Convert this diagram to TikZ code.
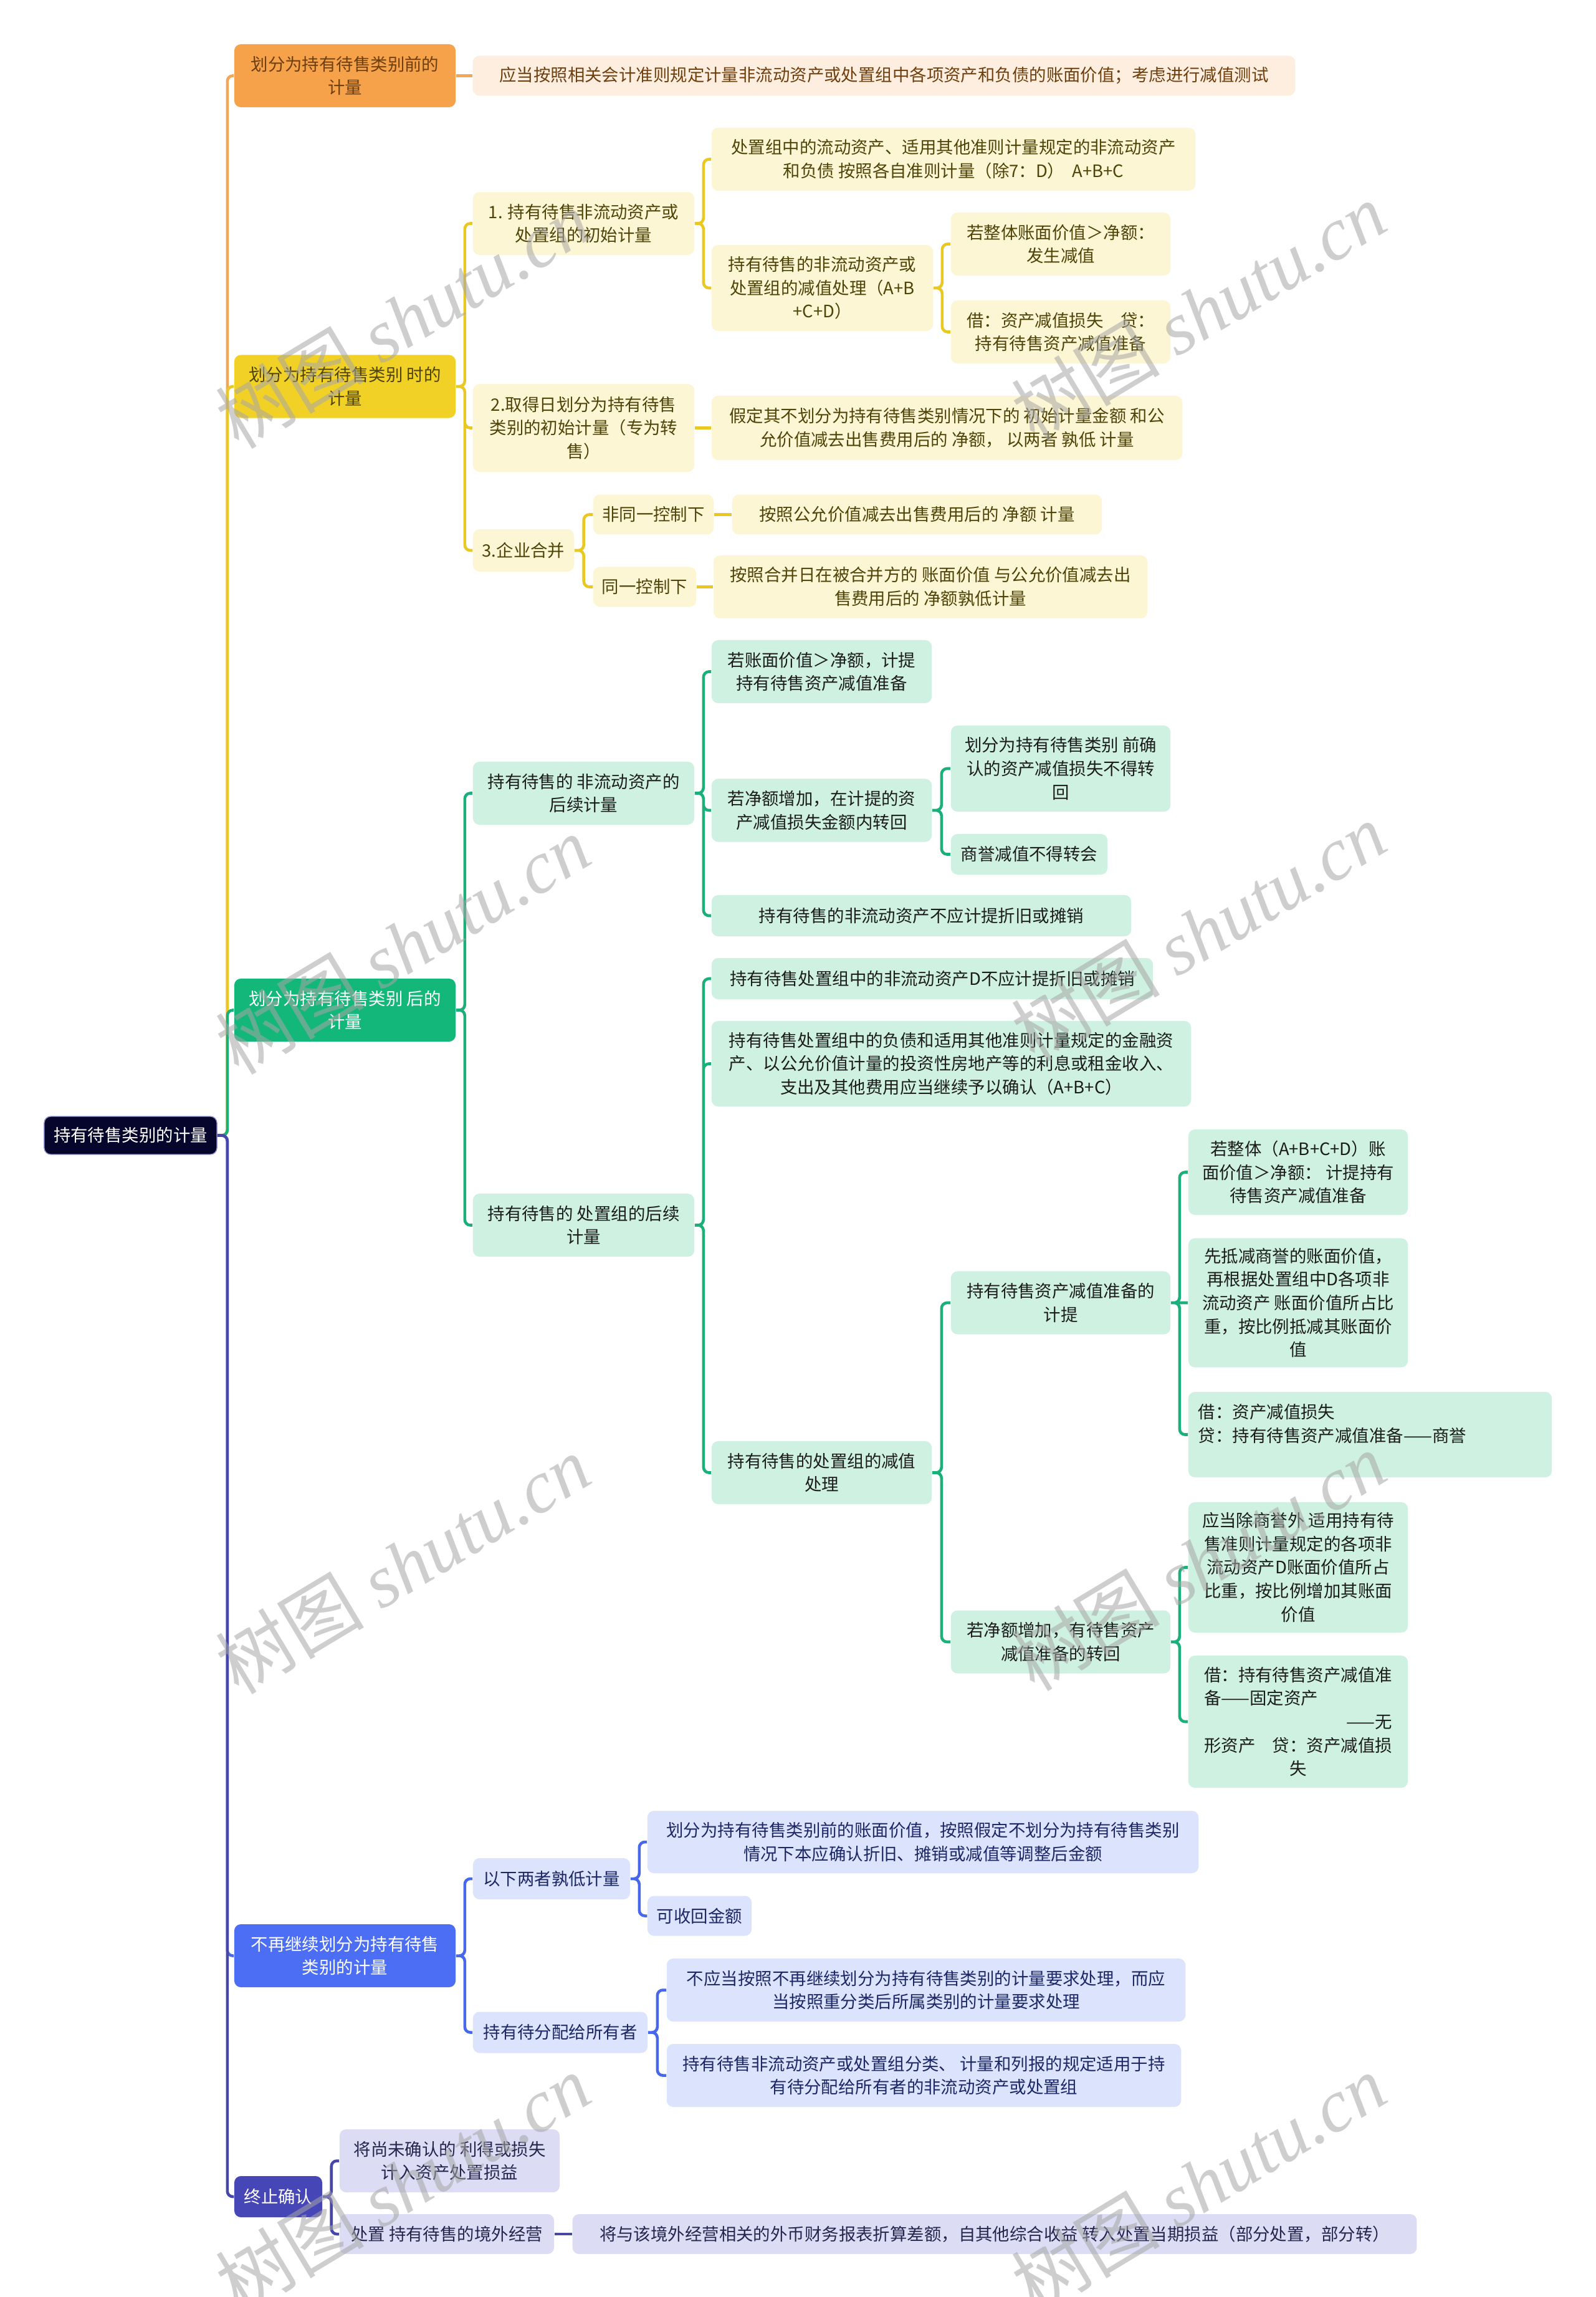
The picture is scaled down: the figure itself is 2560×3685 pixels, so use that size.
\documentclass[tikz,border=0pt]{standalone}
\usepackage{fontspec}
\setmainfont{Noto Sans CJK SC}
\newfontfamily\wmlat{Liberation Serif}
\definecolor{rootcol}{HTML}{06062C}
\definecolor{orgcol}{HTML}{F5A24B}
\definecolor{orgsoft}{HTML}{FDEEDF}
\definecolor{orgtxt}{HTML}{6E3F0E}
\definecolor{orgline}{HTML}{F2A657}
\definecolor{yelcol}{HTML}{F2D126}
\definecolor{yelsoft}{HTML}{FDF6D4}
\definecolor{yeltxt}{HTML}{4F4408}
\definecolor{yelline}{HTML}{E9C823}
\definecolor{grncol}{HTML}{14B77A}
\definecolor{grnsoft}{HTML}{CEF1E1}
\definecolor{grntxt}{HTML}{1C1C1C}
\definecolor{grnline}{HTML}{1BAF79}
\definecolor{blucol}{HTML}{4B6EF5}
\definecolor{blusoft}{HTML}{DCE3FC}
\definecolor{blutxt}{HTML}{1C2866}
\definecolor{bluline}{HTML}{4768EA}
\definecolor{indcol}{HTML}{4646B7}
\definecolor{indsoft}{HTML}{DDDCF5}
\definecolor{indtxt}{HTML}{25254D}
\definecolor{indline}{HTML}{4747AA}
\newcommand\mmfont{\fontsize{7.8pt}{10.7pt}\selectfont}

\begin{document}
\begin{tikzpicture}[x=0.01cm, y=-0.01cm,
    box/.style={rounded corners=3pt, inner sep=2pt, align=center, font=\mmfont},
    sz/.style 2 args={minimum width=#1cm, minimum height=#2cm},
    rootbox/.style={box, fill=rootcol, draw=indcol!60, thin, text=white},
    orgA/.style={box, fill=orgcol, text=orgtxt},
    orgB/.style={box, fill=orgsoft, text=orgtxt},
    yelA/.style={box, fill=yelcol, text=yeltxt},
    yelB/.style={box, fill=yelsoft, text=yeltxt},
    grnA/.style={box, fill=grncol, text=white},
    grnB/.style={box, fill=grnsoft, text=grntxt},
    bluA/.style={box, fill=blucol, text=white},
    bluB/.style={box, fill=blusoft, text=blutxt},
    indA/.style={box, fill=indcol, text=white},
    indB/.style={box, fill=indsoft, text=indtxt},
    olink/.style={orgline, line width=1.3pt, rounded corners=2.5pt},
    ylink/.style={yelline, line width=1.3pt, rounded corners=2.5pt},
    glink/.style={grnline, line width=1.3pt, rounded corners=2.5pt},
    blink/.style={bluline, line width=1.3pt, rounded corners=2.5pt},
    ilink/.style={indline, line width=1.3pt, rounded corners=2.5pt},
    wm/.style={text=gray!70, opacity=0.55, rotate=31, font=\fontsize{34pt}{34pt}\selectfont}]
  \fill[white] (0,0) rectangle (2560,3685);
  \useasboundingbox (0,0) rectangle (2560,3685);

  % root
  \node[rootbox, sz={2.77}{0.61}] (root) at (209.5,1821.5) {持有待售类别的计量};

  % before classification
  \node[orgA, sz={3.55}{1.01}] (pre) at (553.5,121.5) {划分为持有待售类别前的\\计量};
  \node[orgB, sz={13.19}{0.64}] (pre1) at (1418.5,121.5) {应当按照相关会计准则规定计量非流动资产或处置组中各项资产和负债的账面价值；考虑进行减值测试};

  % at classification
  \node[yelA, sz={3.55}{1.01}] (at) at (553.5,620) {划分为持有待售类别 时的\\计量};
  \node[yelB, sz={3.55}{1.01}] (at1) at (936.5,358.5) {1. 持有待售非流动资产或\\处置组的初始计量};
  \node[yelB, sz={7.76}{1.01}] (at11) at (1530,255.5) {处置组中的流动资产、适用其他准则计量规定的非流动资产\\和负债 按照各自准则计量（除7：D）\ \ A+B+C};
  \node[yelB, sz={3.55}{1.38}] (at12) at (1319.5,462) {持有待售的非流动资产或\\处置组的减值处理（A+B\\+C+D）};
  \node[yelB, sz={3.52}{1.01}] (at121) at (1702,391.5) {若整体账面价值＞净额：\\发生减值};
  \node[yelB, sz={3.52}{1.01}] (at122) at (1702,532.5) {借：资产减值损失\quad 贷：\\持有待售资产减值准备};
  \node[yelB, sz={3.55}{1.41}] (at2) at (936.5,686.5) {2.取得日划分为持有待售\\类别的初始计量（专为转\\售）};
  \node[yelB, sz={7.55}{1.03}] (at21) at (1519.5,686.5) {假定其不划分为持有待售类别情况下的 初始计量金额 和公\\允价值减去出售费用后的 净额， 以两者 孰低 计量};
  \node[yelB, sz={1.62}{0.68}] (at3) at (840,883) {3.企业合并};
  \node[yelB, sz={1.93}{0.64}] (at31) at (1048.5,825.5) {非同一控制下};
  \node[yelB, sz={5.93}{0.64}] (at311) at (1471.5,825.5) {按照公允价值减去出售费用后的 净额 计量};
  \node[yelB, sz={1.65}{0.64}] (at32) at (1034.5,941.5) {同一控制下};
  \node[yelB, sz={6.96}{1.01}] (at321) at (1493,941.5) {按照合并日在被合并方的 账面价值 与公允价值减去出\\售费用后的 净额孰低计量};

  % after classification
  \node[grnA, sz={3.55}{1.01}] (post) at (553.5,1620.5) {划分为持有待售类别 后的\\计量};
  \node[grnB, sz={3.55}{1.01}] (post1) at (936.5,1272.5) {持有待售的 非流动资产的\\后续计量};
  \node[grnB, sz={3.53}{1.01}] (post11) at (1318.5,1077.5) {若账面价值＞净额，计提\\持有待售资产减值准备};
  \node[grnB, sz={3.53}{1.01}] (post12) at (1318.5,1300) {若净额增加，在计提的资\\产减值损失金额内转回};
  \node[grnB, sz={3.52}{1.38}] (post121) at (1702,1233) {划分为持有待售类别 前确\\认的资产减值损失不得转\\回};
  \node[grnB, sz={2.51}{0.65}] (post122) at (1651.5,1370.5) {商誉减值不得转会};
  \node[grnB, sz={6.73}{0.66}] (post13) at (1478.5,1469) {持有待售的非流动资产不应计提折旧或摊销};
  \node[grnB, sz={3.55}{1.01}] (post2) at (936.5,1965.5) {持有待售的 处置组的后续\\计量};
  \node[grnB, sz={7.08}{0.66}] (post21) at (1496,1570) {持有待售处置组中的非流动资产D不应计提折旧或摊销};
  \node[grnB, sz={7.69}{1.37}] (post22) at (1526.5,1706.5) {持有待售处置组中的负债和适用其他准则计量规定的金融资\\产、以公允价值计量的投资性房地产等的利息或租金收入、\\支出及其他费用应当继续予以确认（A+B+C）};
  \node[grnB, sz={3.53}{1.01}] (post23) at (1318.5,2362.5) {持有待售的处置组的减值\\处理};
  \node[grnB, sz={3.52}{1.01}] (post231) at (1702,2090) {持有待售资产减值准备的\\计提};
  \node[grnB, sz={3.52}{1.37}] (post2311) at (2083,1880.5) {若整体（A+B+C+D）账\\面价值＞净额： 计提持有\\待售资产减值准备};
  \node[grnB, sz={3.52}{2.07}] (post2312) at (2083,2090) {先抵减商誉的账面价值，\\再根据处置组中D各项非\\流动资产 账面价值所占比\\重，按比例抵减其账面价\\值};
  \node[grnB, text width=5.51cm, inner xsep=0.16cm, minimum height=1.37cm, align=left] (post2313) at (2198.5,2301.5) {借：资产减值损失\\贷：持有待售资产减值准备——商誉\\\mbox{}};
  \node[grnB, sz={3.52}{1.01}] (post232) at (1702,2634) {若净额增加，有待售资产\\减值准备的转回};
  \node[grnB, sz={3.52}{2.09}] (post2321) at (2083,2514.5) {应当除商誉外 适用持有待\\售准则计量规定的各项非\\流动资产D账面价值所占\\比重，按比例增加其账面\\价值};
  \node[grnB, sz={3.52}{2.12}] (post2322) at (2083,2762) {借：持有待售资产减值准\\\makebox[11em][l]{备——固定资产}\\\makebox[11em][r]{——无}\\\makebox[11em][l]{形资产\hfill 贷：资产减值损}\\失};

  % no longer held for sale
  \node[bluA, sz={3.55}{1.01}] (stop) at (553.5,3137.5) {不再继续划分为持有待售\\类别的计量};
  \node[bluB, sz={2.52}{0.66}] (stop1) at (885,3014) {以下两者孰低计量};
  \node[bluB, sz={8.84}{1.0}] (stop11) at (1481,2955) {划分为持有待售类别前的账面价值，按照假定不划分为持有待售类别\\情况下本应确认折旧、摊销或减值等调整后金额};
  \node[bluB, sz={1.67}{0.64}] (stop12) at (1122.5,3073.5) {可收回金额};
  \node[bluB, sz={2.80}{0.66}] (stop2) at (899,3260.5) {持有待分配给所有者};
  \node[bluB, sz={8.32}{1.01}] (stop21) at (1486,3192.5) {不应当按照不再继续划分为持有待售类别的计量要求处理，而应\\当按照重分类后所属类别的计量要求处理};
  \node[bluB, sz={8.25}{1.01}] (stop22) at (1482.5,3329.5) {持有待售非流动资产或处置组分类、 计量和列报的规定适用于持\\有待分配给所有者的非流动资产或处置组};

  % derecognition
  \node[indA, sz={1.41}{0.66}] (derec) at (446.5,3524) {终止确认};
  \node[indB, sz={3.53}{1.01}] (derec1) at (721.5,3466.5) {将尚未确认的 利得或损失\\计入资产处置损益};
  \node[indB, sz={3.44}{0.64}] (derec2) at (717,3584) {处置 持有待售的境外经营};
  \node[indB, sz={13.54}{0.64}] (derec21) at (1596,3584) {将与该境外经营相关的外币财务报表折算差额，自其他综合收益 转入处置当期损益（部分处置，部分转）};

  % links from the root
  \draw[olink] (root.east) -- ++(16,0) |- (pre.west);
  \draw[ylink] (root.east) -- ++(16,0) |- (at.west);
  \draw[glink] (root.east) -- ++(16,0) |- (post.west);
  \draw[blink] (root.east) -- ++(16,0) |- (stop.west);
  \draw[ilink] (root.east) -- ++(16,0) |- (derec.west);

  \draw[olink] (pre.east) -- (pre1.west);

  \draw[ylink] (at.east) -- ++(14,0) |- (at1.west) (at.east) -- ++(14,0) |- (at2.west) (at.east) -- ++(14,0) |- (at3.west);
  \draw[ylink] (at1.east) -- ++(14,0) |- (at11.west) (at1.east) -- ++(14,0) |- (at12.west);
  \draw[ylink] (at12.east) -- ++(14,0) |- (at121.west) (at12.east) -- ++(14,0) |- (at122.west);
  \draw[ylink] (at2.east) -- (at21.west);
  \draw[ylink] (at3.east) -- ++(15,0) |- (at31.west) (at3.east) -- ++(15,0) |- (at32.west);
  \draw[ylink] (at31.east) -- (at311.west) (at32.east) -- (at321.west);

  \draw[glink] (post.east) -- ++(14,0) |- (post1.west) (post.east) -- ++(14,0) |- (post2.west);
  \draw[glink] (post1.east) -- ++(14,0) |- (post11.west) (post1.east) -- ++(14,0) |- (post12.west) (post1.east) -- ++(14,0) |- (post13.west);
  \draw[glink] (post12.east) -- ++(15,0) |- (post121.west) (post12.east) -- ++(15,0) |- (post122.west);
  \draw[glink] (post2.east) -- ++(14,0) |- (post21.west) (post2.east) -- ++(14,0) |- (post22.west) (post2.east) -- ++(14,0) |- (post23.west);
  \draw[glink] (post23.east) -- ++(15,0) |- (post231.west) (post23.east) -- ++(15,0) |- (post232.west);
  \draw[glink] (post231.east) -- ++(14,0) |- (post2311.west) (post231.east) -- (post2312.west) (post231.east) -- ++(14,0) |- (post2313.west);
  \draw[glink] (post232.east) -- ++(14,0) |- (post2321.west) (post232.east) -- ++(14,0) |- (post2322.west);

  \draw[blink] (stop.east) -- ++(14,0) |- (stop1.west) (stop.east) -- ++(14,0) |- (stop2.west);
  \draw[blink] (stop1.east) -- ++(14,0) |- (stop11.west) (stop1.east) -- ++(14,0) |- (stop12.west);
  \draw[blink] (stop2.east) -- ++(15,0) |- (stop21.west) (stop2.east) -- ++(15,0) |- (stop22.west);

  \draw[ilink] (derec.east) -- ++(14,0) |- (derec1.west) (derec.east) -- ++(14,0) |- (derec2.west);
  \draw[ilink] (derec2.east) -- (derec21.west);

  % watermark
  \node[wm] (wm1) at (646,512) {树图 {\wmlat\itshape shutu.cn}};
  \node[wm] (wm2) at (1923,500) {树图 {\wmlat\itshape shutu.cn}};
  \node[wm] (wm3) at (646,1516) {树图 {\wmlat\itshape shutu.cn}};
  \node[wm] (wm4) at (1923,1495) {树图 {\wmlat\itshape shutu.cn}};
  \node[wm] (wm5) at (646,2510) {树图 {\wmlat\itshape shutu.cn}};
  \node[wm] (wm6) at (1923,2505) {树图 {\wmlat\itshape shutu.cn}};
  \node[wm] (wm7) at (646,3503) {树图 {\wmlat\itshape shutu.cn}};
  \node[wm] (wm8) at (1923,3503) {树图 {\wmlat\itshape shutu.cn}};
\end{tikzpicture}
\end{document}
